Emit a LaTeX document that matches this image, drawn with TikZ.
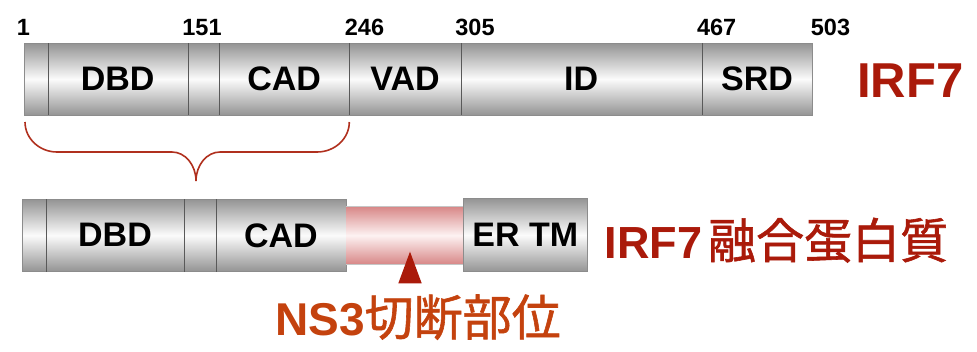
\documentclass[tikz,border=0pt]{standalone}
\usepackage{fontspec}
\setmainfont{Liberation Sans}
\newfontfamily\cjkfont{Noto Sans CJK JP}[FakeBold=1.2]
\definecolor{segline}{gray}{0.35}
\definecolor{segedge}{gray}{0.55}
\definecolor{irfred}{RGB}{170,26,10}
\definecolor{cutorange}{RGB}{196,66,14}
\definecolor{bracered}{RGB}{176,48,30}
\definecolor{segshade}{gray}{0.58}
\definecolor{linkshade}{RGB}{216,136,136}
\definecolor{linkmid}{RGB}{253,242,242}
\tikzset{
  seg/.style={inner sep=0, minimum height=71.7pt,
    top color=segshade, bottom color=segshade, middle color=white!97!gray,
    font=\bfseries\fontsize{34}{34}\selectfont},
  segb/.style={seg, minimum height=72pt},
  num/.style={anchor=base, inner sep=0, font=\bfseries\fontsize{23.5}{23.5}\selectfont},
  title/.style={anchor=base west, inner sep=0, font=\bfseries\fontsize{#1}{#1}\selectfont},
  outline/.style={draw=segedge, line width=0.9pt},
  divider/.style={draw=segline, line width=0.8pt},
}
% CJK part of a label, medium weight
\newcommand{\cjktext}[2]{{\cjkfont\mdseries\fontsize{#1}{#1}\selectfont #2}}
\begin{document}
\begin{tikzpicture}[x={(1pt,0)}, y={(0,-1pt)}]
\useasboundingbox (0,0) rectangle (977,351);

% ---- IRF7 domain map ----
\node[seg, minimum width=22.7pt]  (t0)   at (36.35,79.2)  {};
\node[seg, minimum width=140pt]   (dbdA) at (117.7,79.2)  {DBD};
\node[seg, minimum width=31.3pt]  (t2)   at (203.35,79.2) {};
\node[seg, minimum width=130.3pt] (cadA) at (284.15,79.2) {CAD};
\node[seg, minimum width=111.4pt] (vad)  at (405,79.2)    {VAD};
\node[seg, minimum width=241pt]   (id)   at (581.2,79.2)  {ID};
\node[seg, minimum width=110.6pt] (srd)  at (757,79.2)    {SRD};
\draw[outline] (t0.north west) rectangle (srd.south east);
\foreach \n in {t0,dbdA,t2,cadA,vad,id}
  \draw[divider] (\n.north east) -- (\n.south east);

% residue numbers
\node[num] (n1)   at (23.3,35)  {1};
\node[num] (n151) at (202,35)   {151};
\node[num] (n246) at (364.5,35) {246};
\node[num] (n305) at (475,35)   {305};
\node[num] (n467) at (716.7,35) {467};
\node[num] (n503) at (830.5,35) {503};

\node[title=49, text=irfred] (irf) at (857,97.3) {IRF7};

% brace over DBD..CAD
\coordinate (bl) at (25,122);
\coordinate (br) at (349.3,122);
\coordinate (btip) at (196,181);
\draw[bracered, line width=1.6pt]
  (bl) .. controls (25,138.5) and (39.4,152) .. (57,152) -- (172,152)
  .. controls (185.2,152) and (196,165) .. (btip)
  .. controls (196,165) and (206.8,152) .. (220,152) -- (317,152)
  .. controls (334.9,152) and (349.3,138.5) .. (br);

% ---- fusion protein ----
\node[segb, minimum width=23pt]    (b0)   at (34.2,235.3)   {};
\node[segb, minimum width=138.6pt] (dbdB) at (115,235.3)    {DBD};
\node[segb, minimum width=31.4pt]  (b2)   at (200,235.3)    {};
\node[segb, minimum width=130.3pt] (cadB) at (280.85,235.3) {CAD};
\draw[outline] (b0.north west) rectangle (cadB.south east);
\foreach \n in {b0,dbdB,b2}
  \draw[divider] (\n.north east) -- (\n.south east);

\node[inner sep=0, minimum width=117.3pt, minimum height=57.3pt,
  top color=linkshade, bottom color=linkshade, middle color=linkmid]
  (link) at (404.65,235.35) {};
\draw[draw=gray!45, line width=0.6pt] (link.north west) -- (link.north east)
  (link.south west) -- (link.south east);

\node[seg, minimum width=124pt, minimum height=73.4pt, outline] (ertm) at (525.3,235) {ER TM};

\node[title=45, text=irfred] (fusion) at (604.4,258.3)
  {IRF7\hspace{6pt}\cjktext{48}{融合蛋白質}};

% NS3 cleavage site
\coordinate (cut) at (410,251.7);
\fill[irfred] (cut) -- (398.3,283.3) -- (421.7,283.3) -- cycle;
\node[title=46, text=cutorange] (ns3) at (275,335.5)
  {NS3\cjktext{49}{切断部位}};
\end{tikzpicture}
\end{document}
